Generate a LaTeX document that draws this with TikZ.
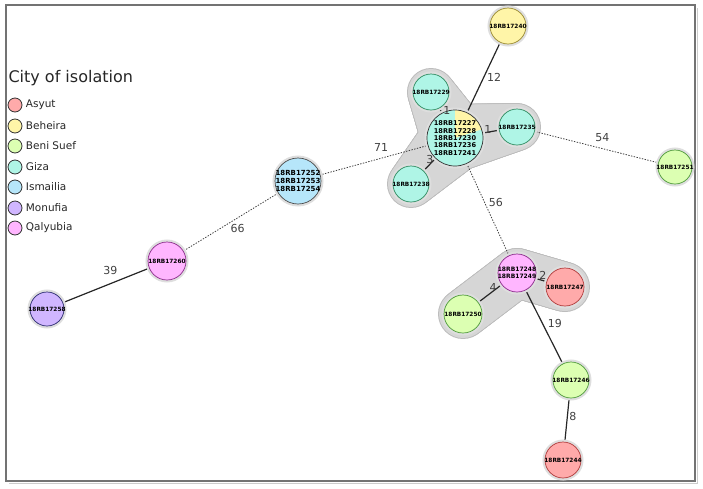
\documentclass[tikz,border=0pt]{standalone}
\usepackage{fontspec}
\setmainfont{DejaVu Sans}
\usetikzlibrary{calc}

\definecolor{asyutF}{HTML}{FFAAAA}
\definecolor{asyutD}{HTML}{B03A3A}
\definecolor{beheiraF}{HTML}{FFF5A8}
\definecolor{beheiraD}{HTML}{9A8A30}
\definecolor{benisuefF}{HTML}{DCFFB2}
\definecolor{benisuefD}{HTML}{4E9A3A}
\definecolor{gizaF}{HTML}{AFF5E6}
\definecolor{gizaD}{HTML}{2E8B60}
\definecolor{ismailiaF}{HTML}{B6E6FA}
\definecolor{ismailiaD}{HTML}{505A66}
\definecolor{monufiaF}{HTML}{D0B6FF}
\definecolor{monufiaD}{HTML}{2A2A70}
\definecolor{qalyubiaF}{HTML}{FFB6FF}
\definecolor{qalyubiaD}{HTML}{8A2A8A}

\pgfdeclarelayer{hull}
\pgfdeclarelayer{edges}
\pgfsetlayers{hull,edges,main}

\tikzset{
  isolate/.style={circle, inner sep=-3pt, line width=0.7pt, align=center,
    font=\bfseries\fontsize{5.8}{6.5}\selectfont,
    preaction={draw=black!13, line width=5pt}},
  asyut/.style={isolate, fill=asyutF, draw=asyutD},
  beheira/.style={isolate, fill=beheiraF, draw=beheiraD},
  benisuef/.style={isolate, fill=benisuefF, draw=benisuefD},
  giza/.style={isolate, fill=gizaF, draw=gizaD},
  ismailia/.style={isolate, fill=ismailiaF, draw=black!70},
  monufia/.style={isolate, fill=monufiaF, draw=monufiaD},
  qalyubia/.style={isolate, fill=qalyubiaF, draw=qalyubiaD},
  link/.style={black!85, line width=1.2pt},
  farlink/.style={black!75, line width=0.8pt, dash pattern=on 1.4pt off 1.4pt},
  dist/.style={font=\fontsize{11}{13}\selectfont, text=black!75, inner sep=0pt},
  legdot/.style={circle, draw=black!80, line width=0.8pt, minimum size=14pt, inner sep=0pt},
  legtext/.style={anchor=west, font=\fontsize{10.5}{12}\selectfont, text=black!85},
  hullrim/.style={fill=black!26},
  hullbody/.style={fill=black!16}
}

% grey group shape: discs swept from one isolate to the next
\newcommand{\clusterlink}[5]{%
  \foreach \t in {0,0.025,...,1.001}{
    \fill[#1] ($(#2.center)!\t!(#4.center)$) circle[radius={(#3+(#5-#3)*\t)*1pt}];}
}

\begin{document}
\begin{tikzpicture}[x=1pt,y=-1pt]
\useasboundingbox (0,0) rectangle (703,488);
\draw[black!20, line width=1.5pt] (697.5,8) -- (697.5,483.5) -- (9,483.5);
\draw[black!55, line width=1.6pt] (6,5) rectangle (695,481);

% legend
\node[anchor=west, font=\fontsize{16}{18}\selectfont, text=black!85] (legtitle) at (5,78) {City of isolation};
\node[legdot, fill=asyutF] (legA) at (15,105) {};
\node[legtext] at (legA.east) {Asyut};
\node[legdot, fill=beheiraF] (legB) at (15,126) {};
\node[legtext] at (legB.east) {Beheira};
\node[legdot, fill=benisuefF] (legC) at (15,146) {};
\node[legtext] at (legC.east) {Beni Suef};
\node[legdot, fill=gizaF] (legD) at (15,167) {};
\node[legtext] at (legD.east) {Giza};
\node[legdot, fill=ismailiaF] (legE) at (15,187) {};
\node[legtext] at (legE.east) {Ismailia};
\node[legdot, fill=monufiaF] (legF) at (15,208) {};
\node[legtext] at (legF.east) {Monufia};
\node[legdot, fill=qalyubiaF] (legG) at (15,228) {};
\node[legtext] at (legG.east) {Qalyubia};

% isolates
\node[beheira, minimum size=36pt] (n17240) at (508,26) {18RB17240};
\node[giza, minimum size=36pt] (n17229) at (431,92) {18RB17229};
\node[giza, minimum size=56pt, draw=black!80,
  font=\bfseries\fontsize{6.6}{7.4}\selectfont,
  path picture={\fill[beheiraF] (path picture bounding box.center) -- +(18:40pt) -- +(90:40pt) -- cycle;}]
  (ncore) at (455,138) {18RB17227\\18RB17228\\18RB17230\\18RB17236\\18RB17241};
\node[giza, minimum size=36pt] (n17235) at (517,127) {18RB17235};
\node[giza, minimum size=36pt] (n17238) at (411,184) {18RB17238};
\node[benisuef, minimum size=34pt] (n17251) at (675,167) {18RB17251};
\node[ismailia, minimum size=46pt, font=\bfseries\fontsize{7}{7.9}\selectfont] (nism) at (298,181) {18RB17252\\18RB17253\\18RB17254};
\node[qalyubia, minimum size=38pt] (n17260) at (167,261) {18RB17260};
\node[monufia, minimum size=34pt] (n17258) at (47,309) {18RB17258};
\node[qalyubia, minimum size=38pt, font=\bfseries\fontsize{6}{7}\selectfont] (n17248) at (517,273) {18RB17248\\18RB17249};
\node[asyut, minimum size=38pt] (n17247) at (565,287) {18RB17247};
\node[benisuef, minimum size=38pt] (n17250) at (463,314) {18RB17250};
\node[benisuef, minimum size=36pt] (n17246) at (571,380) {18RB17246};
\node[asyut, minimum size=36pt] (n17244) at (563,460) {18RB17244};

% groups
\begin{pgfonlayer}{hull}
\clusterlink{hullrim}{ncore}{34}{n17229}{24}
\clusterlink{hullrim}{ncore}{34}{n17235}{24}
\clusterlink{hullrim}{ncore}{34}{n17238}{24}
\clusterlink{hullrim}{n17248}{25}{n17247}{25}
\clusterlink{hullrim}{n17248}{25}{n17250}{25}
\clusterlink{hullbody}{ncore}{33}{n17229}{23}
\clusterlink{hullbody}{ncore}{33}{n17235}{23}
\clusterlink{hullbody}{ncore}{33}{n17238}{23}
\clusterlink{hullbody}{n17248}{24}{n17247}{24}
\clusterlink{hullbody}{n17248}{24}{n17250}{24}
\end{pgfonlayer}

% links
\begin{pgfonlayer}{edges}
\draw[link] (n17258.center) -- (n17260.center);
\draw[farlink] (n17260.center) -- (nism.center);
\draw[farlink] (nism.center) -- (ncore.center);
\draw[link] (ncore.center) -- (n17240.center);
\draw[link] (n17229.center) -- (ncore.center);
\draw[link] (ncore.center) -- (n17235.center);
\draw[link] (ncore.center) -- (n17238.center);
\draw[farlink] (n17235.center) -- (n17251.center);
\draw[farlink] (ncore.center) -- (n17248.center);
\draw[link] (n17248.center) -- (n17247.center);
\draw[link] (n17248.center) -- (n17250.center);
\draw[link] (n17248.center) -- (n17246.center);
\draw[link] (n17246.center) -- (n17244.center);
\end{pgfonlayer}

% distances
\path (n17258) -- node[dist, pos=0.55, yshift=13pt] {39} (n17260);
\path (n17260.center) -- node[dist, pos=0.54, yshift=-11pt] {66} (nism.center);
\path (nism.center) -- node[dist, pos=0.53, yshift=11pt] {71} (ncore.center);
\path (ncore.center) -- node[dist, pos=0.54, xshift=10.5pt] {12} (n17240.center);
\path (n17229.center) -- node[dist, pos=0.41, xshift=6pt] {1} (ncore.center);
\path (ncore.center) -- node[dist, pos=0.53, yshift=3pt] {1} (n17235.center);
\path (ncore.center) -- node[dist, pos=0.46, xshift=-5pt] {3} (n17238.center);
\path (n17235.center) -- node[dist, pos=0.54, yshift=11.5pt] {54} (n17251.center);
\path (ncore.center) -- node[dist, pos=0.48, xshift=11pt] {56} (n17248.center);
\path (n17248.center) -- node[dist, pos=0.54, yshift=5.5pt] {2} (n17247.center);
\path (n17248.center) -- node[dist, pos=0.44, yshift=4pt] {4} (n17250.center);
\path (n17248.center) -- node[dist, pos=0.47, xshift=12.5pt] {19} (n17246.center);
\path (n17246.center) -- node[dist, pos=0.46, xshift=5.5pt] {8} (n17244.center);
\end{tikzpicture}
\end{document}
